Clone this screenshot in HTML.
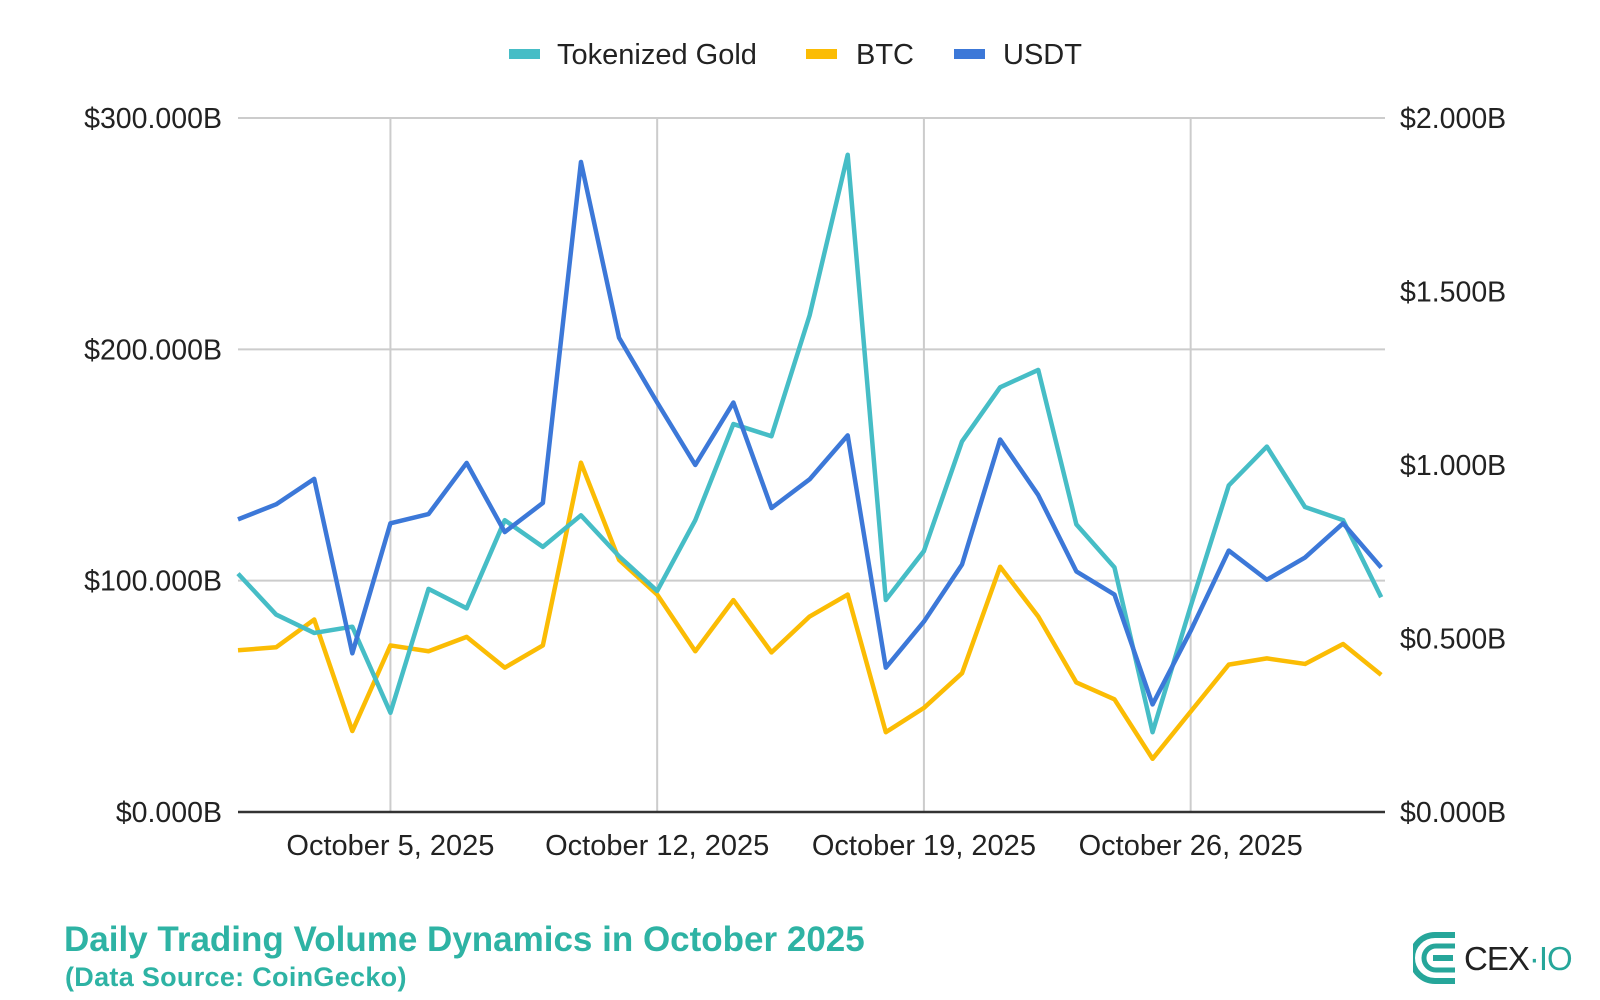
<!DOCTYPE html>
<html><head><meta charset="utf-8"><style>
html,body{margin:0;padding:0;background:#fff;width:1600px;height:1000px;overflow:hidden;font-family:"Liberation Sans",sans-serif}
svg{position:absolute;left:0;top:0}
</style></head><body>
<svg id="chart" width="1600" height="1000" xmlns="http://www.w3.org/2000/svg"></svg>
<script>
const days = [1,2,3,4,5,6,7,8,9,10,11,12,13,14,15,16,17,18,19,20,21,22,23,24,25,26,27,28,29,30,31];
const usdtValues = [126.5,133,144,68.6,124.8,128.8,150.9,121,133.6,281,205,177,150,177,131.4,143.8,162.8,62.4,82.3,107,161,137,104,94,46.5,78.3,113,100.4,110,124.8,105.7];
const btcValues = [69.9,71.2,83.2,35,72,69.5,75.7,62.4,72,151,109,94,69.5,91.6,69,84.5,94,34.5,45,60,106,84.5,56,48.7,23,43.4,63.7,66.4,64,72.6,59.3];
const goldValues = [0.687,0.569,0.516,0.534,0.286,0.643,0.587,0.841,0.764,0.855,0.737,0.637,0.841,1.118,1.083,1.431,1.894,0.611,0.752,1.068,1.224,1.274,0.829,0.705,0.230,0.593,0.941,1.053,0.879,0.841,0.619];
const leftTicks = [0,100,200,300];
const leftTickLabels = ["$0.000B","$100.000B","$200.000B","$300.000B"];
const rightTicks = [0,0.5,1,1.5,2];
const rightTickLabels = ["$0.000B","$0.500B","$1.000B","$1.500B","$2.000B"];
const xTickDays = [5,12,19,26];
const xTickLabels = ["October 5, 2025","October 12, 2025","October 19, 2025","October 26, 2025"];

const NS="http://www.w3.org/2000/svg";
const svg=document.getElementById('chart');
const L=238,R=1385,T=118,B=812;
const x=d=>L+(d-1)*(R-L)/30.1;
const yL=v=>B-v/300*(B-T);
const yR=v=>B-v/2*(B-T);
function mk(tag,attrs,parent){const e=document.createElementNS(NS,tag);for(const k in attrs)e.setAttribute(k,attrs[k]);(parent||svg).appendChild(e);return e;}

leftTicks.forEach((v,i)=>{
  if(v>0){const g=mk('line',{x1:L,x2:R,y1:yL(v),y2:yL(v),stroke:'#cccccc','stroke-width':2});
  
  }
  const t=mk('text',{x:222,y:yL(v)+10,'text-anchor':'end','font-size':28.5,fill:'#222'});
  t.textContent=leftTickLabels[i];
  
  
});
rightTicks.forEach((v,i)=>{
  const t=mk('text',{x:1400,y:yR(v)+10,'text-anchor':'start','font-size':28.5,fill:'#222'});
  t.textContent=rightTickLabels[i];
  
  
});
xTickDays.forEach((d,i)=>{
  const g=mk('line',{x1:x(d),x2:x(d),y1:T,y2:B,stroke:'#cccccc','stroke-width':2});
  
  
  const t=mk('text',{x:x(d),y:855,'text-anchor':'middle','font-size':29,fill:'#222'});
  t.textContent=xTickLabels[i];
  
  
});
const base=mk('line',{x1:L,x2:R,y1:B,y2:B,stroke:'#333','stroke-width':2.5});



function series(vals,yf,color,name){
  const p=mk('polyline',{points:vals.map((v,i)=>x(days[i])+','+yf(v)).join(' '),fill:'none',stroke:color,'stroke-width':4.5,'stroke-linejoin':'round'});
  
  
}
series(btcValues,yL,'#fbbc04','btc-line');
series(goldValues,yR,'#46bdc6','tokenized-gold-line');
series(usdtValues,yL,'#3c78d8','usdt-line');

const leg=[["Tokenized Gold",'#46bdc6',509,557],["BTC",'#fbbc04',806,856],["USDT",'#3c78d8',954,1003]];
leg.forEach(l=>{
  const g=mk('g',{});
  
  
  mk('rect',{x:l[2],y:49,width:31,height:10,fill:l[1]},g);
  const t=mk('text',{x:l[3],y:64,'font-size':29,fill:'#222'},g);
  t.textContent=l[0];
});
</script>
<div style="position:absolute;left:64px;top:920px;font-size:35px;font-weight:bold;color:#2eb3a4;white-space:nowrap;letter-spacing:0px">Daily Trading Volume Dynamics in October 2025</div>
<div style="position:absolute;left:65px;top:962px;font-size:27px;font-weight:bold;color:#2eb3a4;white-space:nowrap;letter-spacing:0.3px">(Data Source: CoinGecko)</div>
<div style="position:absolute;left:1413px;top:932px;width:170px;height:54px">
<svg width="44" height="52" viewBox="0 0 44 52" style="position:absolute;left:0;top:0">
<path d="M42 3 H22 A23 23 0 0 0 22 49 H42" fill="none" stroke="#26a69a" stroke-width="6"/>
<path d="M42 14 H23 A12 12 0 0 0 23 38 H42" fill="none" stroke="#26a69a" stroke-width="5"/>
<rect x="20" y="23" width="20" height="6" fill="#26a69a"/>
</svg>
<span style="position:absolute;left:51px;top:8px;font-size:33px;color:#222;font-weight:normal;letter-spacing:-1px">CEX<span style="color:#26a69a">·IO</span></span>
</div>
</body></html>
